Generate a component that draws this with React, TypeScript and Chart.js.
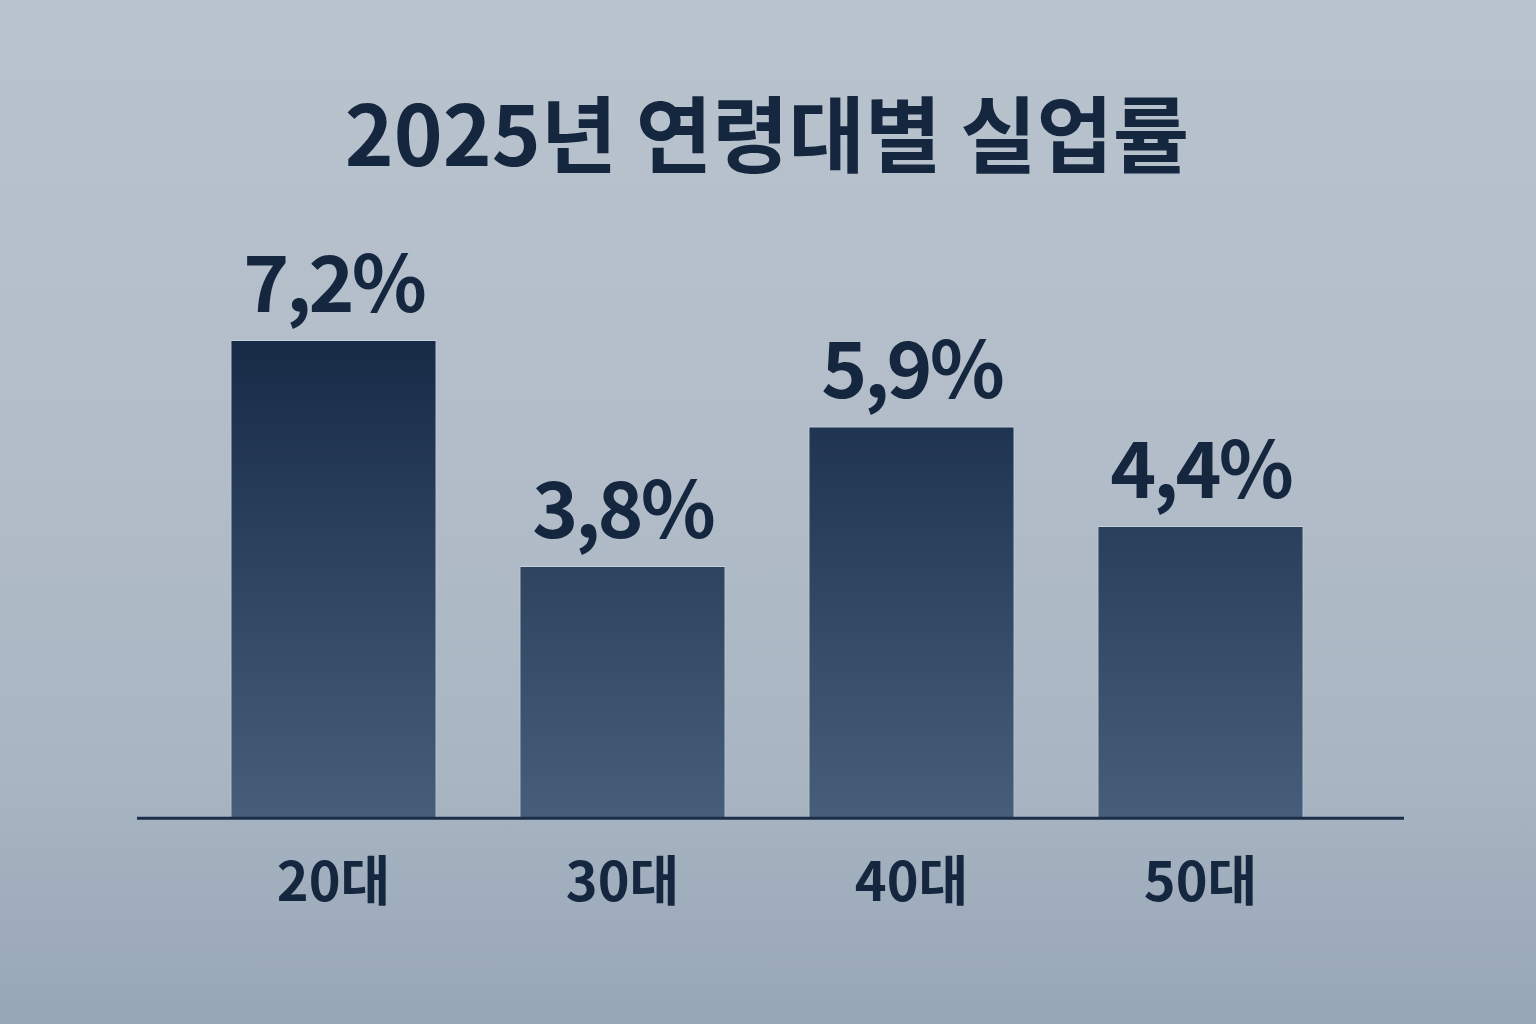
import React, { useEffect, useRef } from 'react';
import { Chart, registerables } from 'chart.js';

Chart.register(...registerables);

const title = '2025년 연령대별 실업률';
const ageGroups = ['20대', '30대', '40대', '50대'];
const unemploymentRates = [7.2, 3.8, 5.9, 4.4];
const yMax = 9;

const ink = '#15263f';
const fontFamily = "'Noto Sans CJK KR', 'Noto Sans', sans-serif";

const formatRate = (v: number) => v.toFixed(1).replace('.', ',') + '%';

// numbers over the bars + the long baseline under them
const barDecor = {
    id: 'barDecor',
    afterDatasetsDraw(chart: Chart) {
        const { ctx, chartArea } = chart;
        const meta = chart.getDatasetMeta(0);

        ctx.save();
        ctx.strokeStyle = '#1b2e4a';
        ctx.lineWidth = 3;
        ctx.beginPath();
        ctx.moveTo(chartArea.left - 52, chartArea.bottom);
        ctx.lineTo(chartArea.right + 59, chartArea.bottom);
        ctx.stroke();

        ctx.fillStyle = ink;
        ctx.font = `bold 78px ${fontFamily}`;
        (ctx as any).letterSpacing = '-3px';
        ctx.textAlign = 'center';
        ctx.textBaseline = 'alphabetic';
        meta.data.forEach((bar: any, i: number) => {
            ctx.fillText(formatRate(unemploymentRates[i]), bar.x, bar.y - 28);
        });
        ctx.restore();
    }
};

const RateChart: React.FC = () => {
    const chartRef = useRef<HTMLCanvasElement>(null);
    const chartInstance = useRef<Chart | null>(null);

    useEffect(() => {
        if (!chartRef.current) return;
        if (chartInstance.current) chartInstance.current.destroy();

        const ctx = chartRef.current.getContext('2d');
        if (!ctx) return;

        chartInstance.current = new Chart(ctx, {
            type: 'bar',
            data: {
                labels: ageGroups,
                datasets: [{
                    data: unemploymentRates,
                    backgroundColor: (c: any) => {
                        const area = c.chart.chartArea;
                        if (!area) return '#2a405e';
                        const g = c.chart.ctx.createLinearGradient(0, area.top + 120, 0, area.bottom);
                        g.addColorStop(0, '#172b47');
                        g.addColorStop(1, '#475e7b');
                        return g;
                    },
                    borderColor: 'rgba(215, 226, 238, 0.55)',
                    borderWidth: 1,
                    borderSkipped: 'bottom',
                    barPercentage: 0.713,
                    categoryPercentage: 1
                }]
            },
            options: {
                responsive: false,
                animation: false,
                layout: {
                    padding: { top: 0, left: 189, right: 191, bottom: 81 }
                },
                scales: {
                    x: {
                        grid: { display: false, drawTicks: false },
                        border: { display: false },
                        ticks: {
                            padding: 30,
                            color: ink,
                            font: { family: fontFamily, size: 54, weight: 'bold' }
                        }
                    },
                    y: {
                        display: false,
                        min: 0,
                        max: yMax
                    }
                },
                plugins: {
                    legend: { display: false },
                    tooltip: { enabled: false },
                    title: {
                        display: true,
                        text: title,
                        color: ink,
                        font: { family: fontFamily, size: 83, weight: 'bold', lineHeight: 1.2 },
                        padding: { top: 85, bottom: 36 }
                    }
                }
            },
            plugins: [barDecor]
        });

        return () => {
            if (chartInstance.current) {
                chartInstance.current.destroy();
                chartInstance.current = null;
            }
        };
    }, []);

    return (
        <div style={{
            position: 'fixed', left: 0, top: 0, width: 1536, height: 1024,
            background: 'linear-gradient(180deg, #b8c3ce 0%, #b2bdc9 45%, #a9b5c2 75%, #97a6b7 100%)'
        }}>
            <canvas ref={chartRef} width={1536} height={1024} style={{ display: 'block' }}></canvas>
        </div>
    );
};

export default function App() {
    return <RateChart />;
}
